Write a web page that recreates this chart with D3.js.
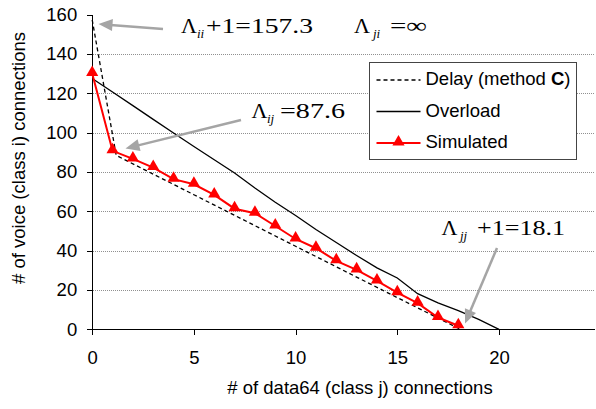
<!DOCTYPE html>
<html>
<head>
<meta charset="utf-8">
<title>Voice vs data64 connections</title>
<script src="https://d3js.org/d3.v7.min.js"></script>
<style>
body {
	margin: 0;
	background-color: white;
}
svg {
	display: block;
	font-family: "Liberation Sans", Arial, sans-serif;
}
.axis path, .axis line {
	stroke: black;
	stroke-width: 1;
	shape-rendering: crispEdges;
}
.axis text {
	font-family: "Liberation Sans", Arial, sans-serif;
	font-size: 18.5px;
	fill: black;
}
.grid {
	stroke: #909090;
	stroke-width: 1;
	stroke-dasharray: 1,1;
	shape-rendering: crispEdges;
}
.delay {
	fill: none;
	stroke: black;
	stroke-width: 1.3;
	stroke-dasharray: 4,3;
}
.overload {
	fill: none;
	stroke: black;
	stroke-width: 1.3;
}
.sim {
	fill: none;
	stroke: red;
	stroke-width: 2;
}
.marker {
	fill: red;
}
.math {
	font-family: "Liberation Serif", "Times New Roman", serif;
	font-size: 22px;
}
.math .sub {
	font-style: italic;
	font-size: 13px;
}
.arrow {
	stroke: #a5a5a5;
	stroke-width: 2.5;
}
.arrowhead {
	fill: #a5a5a5;
}
</style>
<script>
/* globals d3, window */
(function() {
"use strict";

// data
const xTicks = [0, 5, 10, 15, 20];
const yTicks = [0, 20, 40, 60, 80, 100, 120, 140, 160];

const delayX = [0, 1.18, 5, 10, 15, 18.1];
const delayY = [157.3, 88.4, 68.4, 42.2, 16.1, 0];

const overloadX = [0, 1, 2, 3, 4, 5, 6, 7, 8, 9, 10, 11, 12, 13, 14, 15, 16, 17, 18, 19, 20];
const overloadY = [127.5, 120.6, 113.7, 106.7, 99.8, 92.9, 86.2, 79.4, 71.8, 64.6, 57.8,
	50.7, 44.1, 37.5, 31.2, 26.1, 18.1, 13.4, 9.5, 5, 0];

const simX = [0, 1, 2, 3, 4, 5, 6, 7, 8, 9, 10, 11, 12, 13, 14, 15, 16, 17, 18];
const simY = [130, 90.7, 86.6, 82.2, 76.3, 73.7, 68.3, 61.3, 59, 52.5, 45.9,
	41.2, 34.8, 30.2, 24.6, 18.6, 13.3, 6, 1.8];

const seriesNames = ["Delay (method ", "Overload", "Simulated"];

function zip(xs, ys)
{
	return xs.map((x, i) => [x, ys[i]]);
}

function drawArrow(svg, x1, y1, x2, y2)
{
	const len = 14, half = 6;
	const a = Math.atan2(y2 - y1, x2 - x1);
	const bx = x2 - len * Math.cos(a), by = y2 - len * Math.sin(a);
	svg.append("line")
		.attr("class", "arrow")
		.attr("x1", x1).attr("y1", y1)
		.attr("x2", bx + 2 * Math.cos(a)).attr("y2", by + 2 * Math.sin(a));
	const px = -Math.sin(a) * half, py = Math.cos(a) * half;
	svg.append("polygon")
		.attr("class", "arrowhead")
		.attr("points", [[x2, y2], [bx + px, by + py], [bx - px, by - py]].join(" "));
}

// Lambda with subscript, then the rest stretched over a measured width
function drawMath(svg, x, y, sub, subX, rest, restX, restW)
{
	const g = svg.append("g").attr("class", "math");
	g.append("text").attr("x", x).attr("y", y).text("\u039B");
	g.append("text").attr("class", "sub").attr("x", subX).attr("y", y + 5).text(sub);
	g.append("text")
		.attr("x", restX)
		.attr("y", y)
		.attr("textLength", restW)
		.attr("lengthAdjust", "spacingAndGlyphs")
		.text(rest);
}

function main()
{
	const width = 596, height = 409;
	const svg = d3.select("body").append("svg")
		.attr("width", width)
		.attr("height", height);

	const x = d3.scaleLinear([0, 24.7], [92.2, 594.6]);
	const y = d3.scaleLinear([0, 160], [329.3, 14.5]);

	// gridlines
	svg.append("g")
		.selectAll("line")
		.data(yTicks.filter(d => d > 0 && d < 160))
		.join("line")
			.attr("class", "grid")
			.attr("x1", x(0) + 1)
			.attr("x2", x.range()[1])
			.attr("y1", d => Math.round(y(d)) + 0.5)
			.attr("y2", d => Math.round(y(d)) + 0.5);

	svg.append("g")
		.attr("class", "axis")
		.attr("transform", "translate(0," + y(0) + ")")
		.call(d3.axisBottom(x).tickValues(xTicks).tickSize(6).tickPadding(16).tickSizeOuter(0));
	svg.append("g")
		.attr("class", "axis")
		.attr("transform", "translate(" + x(0) + ",0)")
		.call(d3.axisLeft(y).tickValues(yTicks).tickSize(5).tickPadding(10).tickSizeOuter(0));

	const line = d3.line().x(d => x(d[0])).y(d => y(d[1]));

	svg.append("path")
		.attr("class", "delay")
		.attr("d", line(zip(delayX, delayY)));
	svg.append("path")
		.attr("class", "overload")
		.attr("d", line(zip(overloadX, overloadY)));
	const sim = zip(simX, simY);
	svg.append("path")
		.attr("class", "sim")
		.attr("d", line(sim));
	const tri = d3.symbol(d3.symbolTriangle, 64);
	svg.append("g")
		.selectAll("path")
		.data(sim)
		.join("path")
			.attr("class", "marker")
			.attr("transform", d => "translate(" + x(d[0]) + "," + (y(d[1]) - 1) + ")")
			.attr("d", tri);

	// axis titles
	svg.append("text")
		.attr("x", 360)
		.attr("y", 394)
		.attr("text-anchor", "middle")
		.attr("font-size", 18.5)
		.text("# of data64 (class j) connections");
	svg.append("text")
		.attr("transform", "translate(25,158) rotate(-90)")
		.attr("text-anchor", "middle")
		.attr("font-size", 18.5)
		.text("# of voice (class i) connections");

	// legend
	const lg = svg.append("g").attr("transform", "translate(369.5,62.5)");
	lg.append("rect")
		.attr("width", 207)
		.attr("height", 97)
		.attr("fill", "white")
		.attr("stroke", "#444")
		.attr("stroke-width", 1);
	const rows = [22.5, 54, 85.5];
	const classes = ["delay", "overload", "sim"];
	rows.forEach((ry, i) => {
		lg.append("line")
			.attr("class", classes[i])
			.attr("x1", 7).attr("x2", 51)
			.attr("y1", ry - 5).attr("y2", ry - 5);
		const t = lg.append("text")
			.attr("x", 56)
			.attr("y", ry)
			.attr("font-size", 18.5)
			.text(seriesNames[i]);
		if (i === 0) {
			t.append("tspan").attr("font-weight", "bold").text("C");
			t.append("tspan").text(")");
		}
	});
	lg.append("path")
		.attr("class", "marker")
		.attr("transform", "translate(29," + (rows[2] - 6) + ")")
		.attr("d", tri);

	// annotations
	drawMath(svg, 181, 33, "ii", 197, "+1=157.3", 206, 107);
	drawMath(svg, 354, 33, "ji", 373, "=\u221E", 390, 37);
	drawMath(svg, 251.5, 118, "ij", 267, "=87.6", 280, 65);
	drawMath(svg, 441.5, 235, "jj", 460, "+1=18.1", 477, 88);

	drawArrow(svg, 163, 29, 98.5, 24);
	drawArrow(svg, 241, 120, 125.5, 148.5);
	drawArrow(svg, 497, 248, 465, 323.5);
}
window.addEventListener("DOMContentLoaded", main);
})();
</script>
</head>
<body>
</body>
</html>
